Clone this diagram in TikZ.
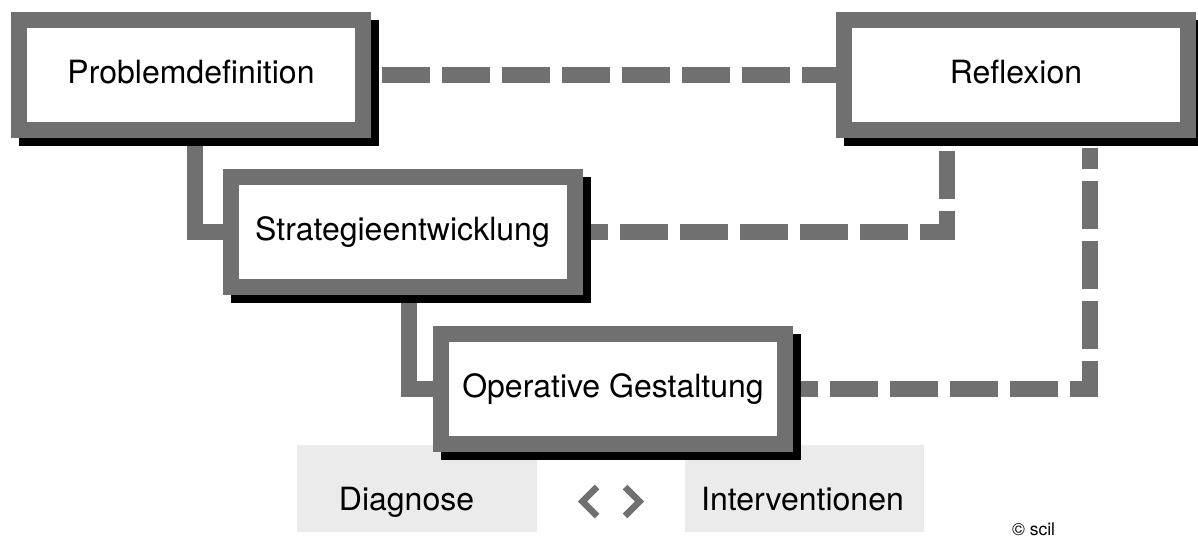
\documentclass[tikz,border=0pt]{standalone}
\usepackage{fontspec}
\setmainfont{TeX Gyre Heros}
\usepackage{tikz}
\usetikzlibrary{backgrounds}
\usetikzlibrary{shadows}
\definecolor{framegray}{RGB}{112,112,112}
\definecolor{bandgray}{RGB}{235,235,235}
\tikzstyle{phase}=[rectangle, draw=framegray, line width=16pt, fill=white,
  minimum width=344pt, minimum height=110pt, inner sep=0pt,
  text height=23pt, text depth=6pt, font=\fontsize{32}{38}\selectfont,
  drop shadow={shadow xshift=8pt, shadow yshift=-8pt, fill=black, draw=black, line width=16pt, opacity=1}]
\tikzstyle{solidlink}=[draw=framegray, line width=16pt]
\tikzstyle{dashlink}=[solidlink, dash pattern=on 48pt off 12pt]
\tikzstyle{bandfill}=[fill=bandgray]
\tikzstyle{bandtext}=[anchor=base, font=\fontsize{32}{38}\selectfont]
\tikzstyle{chevron}=[draw=framegray, line width=6.5pt]

\begin{document}
\begin{tikzpicture}[x=1pt, y=-1pt]
    \useasboundingbox (0,0) rectangle (1198,541);

    \draw node at (191, 74.5) [phase] (prob) {Problemdefinition};
    \draw node at (402.5, 231.5) [phase] (strat) {Strategieentwicklung};
    \draw node at (613, 388.5) [phase] (oper) {Operative Gestaltung};
    \draw node at (1016, 74.5) [phase] (refl) {Reflexion};

    \begin{scope}[on background layer]
    \fill [bandfill] (297,445) rectangle (537,532);
    \fill [bandfill] (685,445) rectangle (924,532);
    \draw [solidlink] ([xshift=4pt]prob.south) |- (strat.west);
    \draw [solidlink] ([xshift=6pt]strat.south) |- (oper.west);
    \draw [dashlink, shorten <=11pt] (prob.east) -- (refl.west);
    \draw [dashlink, shorten <=13pt] ([xshift=-69pt]refl.south) |- (strat.east);
    \draw [dashlink, shorten <=10pt, dash phase=27pt] ([xshift=74pt]refl.south) |- (oper.east);
    \end{scope}

    \node [bandtext] (diag) at (406.5, 510) {Diagnose};
    \node [bandtext] (interv) at (802.5, 510) {Interventionen};
    \draw [chevron] (597,487) -- (582.5,501.5) -- (597,516);
    \draw [chevron] (625,487) -- (639.5,501.5) -- (625,516);
    \node [anchor=base, inner sep=1pt, font=\fontsize{17.5}{20}\selectfont] (copy) at (1033.5, 535) {© scil};
\end{tikzpicture}
\end{document}
